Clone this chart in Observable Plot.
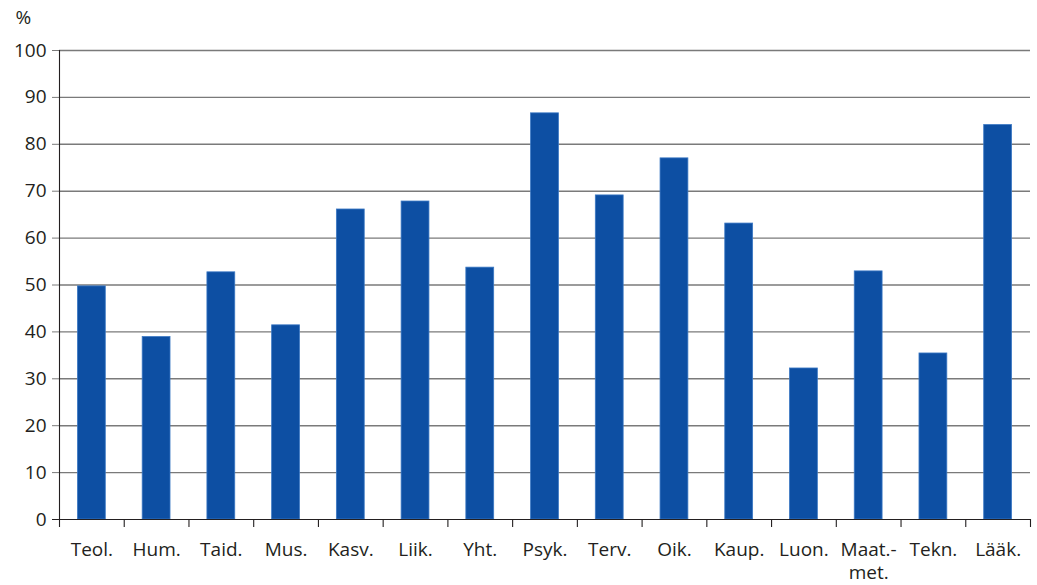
<!DOCTYPE html>
<html>
<head>
<meta charset="utf-8">
<script src="https://cdn.jsdelivr.net/npm/d3@7"></script>
<script src="https://cdn.jsdelivr.net/npm/@observablehq/plot@0.6"></script>
<style>
  html, body { margin: 0; padding: 0; background: #fff; }
  #chart svg { display: block; }
</style>
</head>
<body>
<div id="chart"></div>
<script>
const categories = ["Teol.", "Hum.", "Taid.", "Mus.", "Kasv.", "Liik.", "Yht.", "Psyk.", "Terv.", "Oik.", "Kaup.", "Luon.", "Maat.-\nmet.", "Tekn.", "Lääk."];
const values = [49.7, 38.9, 52.7, 41.4, 66.1, 67.8, 53.7, 86.6, 69.1, 77.0, 63.1, 32.2, 52.9, 35.4, 84.1];
const yTicks = [0, 10, 20, 30, 40, 50, 60, 70, 80, 90, 100];
const yLabel = "%";

const data = categories.map((c, i) => ({category: c, value: values[i]}));

const W = 1037, H = 585;
const mL = 59, mR = 7, mT = 50, mB = 66;
const step = (W - mL - mR) / categories.length;
const font = "'Open Sans', 'Noto Sans', sans-serif";

const chart = Plot.plot({
  width: W,
  height: H,
  marginLeft: mL,
  marginRight: mR,
  marginTop: mT,
  marginBottom: mB,
  style: {fontFamily: font, fontSize: "19px", color: "#231f20", background: "#fff"},
  x: {domain: categories, paddingInner: 0.57, paddingOuter: 0.285, align: 0.5, round: false, label: null},
  y: {domain: [0, 100], label: null},
  marks: [
    Plot.ruleY(yTicks.filter(d => d > 0), {stroke: "#7a7a7a", strokeWidth: 1.4}),
    Plot.axisY({ticks: yTicks, tickSize: 7, tickPadding: 6, stroke: "#7a7a7a", strokeOpacity: 1, label: null, fontSize: 19}),
    Plot.barY(data, {x: "category", y: "value", fill: "#0d4fa3", stroke: "#3b78c4", strokeWidth: 0.8}),
    Plot.ruleY([0], {stroke: "#231f20", strokeWidth: 1.2, insetLeft: -7}),
    Plot.ruleX(categories, {x: d => d, dx: -step / 2, y1: 0, y2: 0, insetBottom: -8, stroke: "#231f20", strokeWidth: 1.1}),
    Plot.ruleX(categories.slice(0, 1), {x: d => d, dx: -step / 2, y1: 0, y2: 100, stroke: "#231f20", strokeWidth: 1.1}),
    Plot.ruleX(categories.slice(-1), {x: d => d, dx: step / 2, y1: 0, y2: 0, insetBottom: -8, stroke: "#231f20", strokeWidth: 1.1}),
    Plot.axisX({tickSize: 0, tickPadding: 20, label: null, fontSize: 19, lineHeight: 1.22}),
    Plot.text([yLabel], {frameAnchor: "top-left", dx: -44, dy: -40, fontSize: 19, fill: "#231f20", textAnchor: "start"})
  ]
});
document.getElementById("chart").appendChild(chart);
</script>
</body>
</html>
